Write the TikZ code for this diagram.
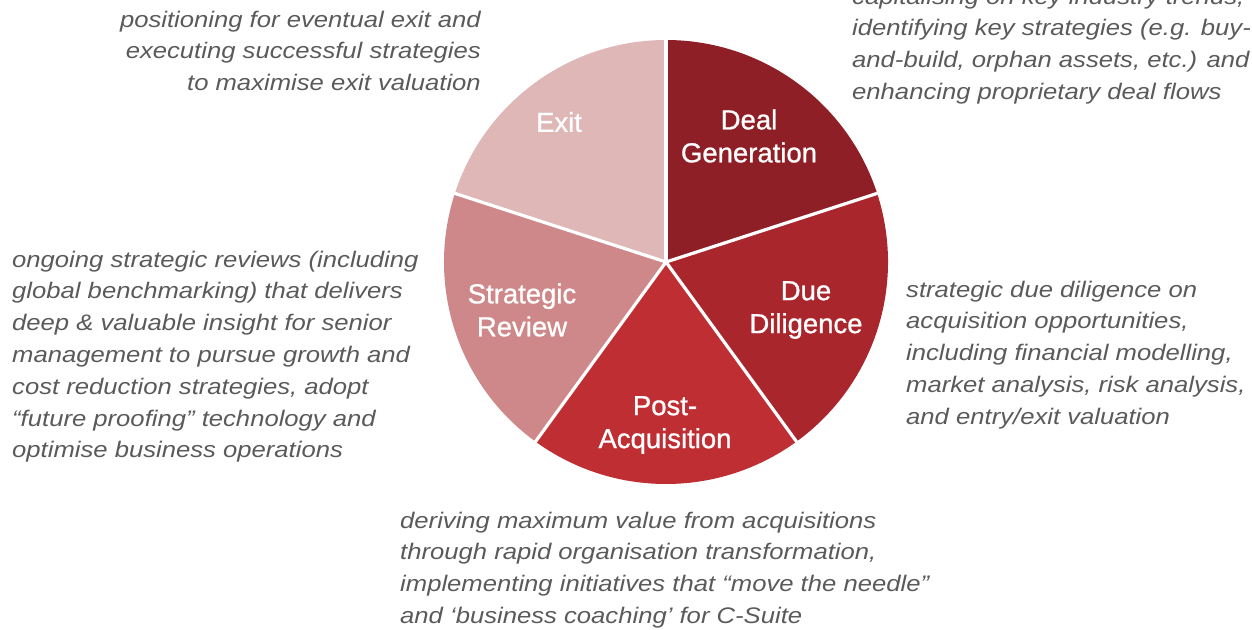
\documentclass[tikz,border=0pt]{standalone}
\usepackage{fontspec}
\setmainfont{Liberation Sans}
\newfontfamily\descfont[FakeStretch=1.14]{Liberation Sans}
\newfontfamily\labelfont[FakeBold=0.9]{Liberation Sans}
\definecolor{dealgen}{HTML}{8E1F26}
\definecolor{duedil}{HTML}{A8262C}
\definecolor{postacq}{HTML}{BF2E33}
\definecolor{stratrev}{HTML}{CF8889}
\definecolor{exitcol}{HTML}{DFB7B7}
\definecolor{desc}{HTML}{5A5A5A}
\begin{document}
\begin{tikzpicture}[x=1pt,y=1pt,
  desctext/.style={inner sep=0pt, text=desc, font=\descfont\fontsize{22.5}{31.8}\selectfont\itshape},
  slicelabel/.style={inner sep=0pt, text=white, align=center, font=\labelfont\fontsize{27.5}{33}\selectfont},
  divider/.style={white, line width=3.2pt}]
\useasboundingbox (0,0) rectangle (1252,-629);
\clip (0,0) rectangle (1252,-629);

% pie chart, five equal slices starting at the top and running clockwise
\coordinate (c) at (666,-262);
\def\rad{222}
\fill[dealgen]  (c) -- ++(90:\rad)  arc[start angle=90,  end angle=18,   radius=\rad] -- cycle;
\fill[duedil]   (c) -- ++(18:\rad)  arc[start angle=18,  end angle=-54,  radius=\rad] -- cycle;
\fill[postacq]  (c) -- ++(-54:\rad) arc[start angle=-54, end angle=-126, radius=\rad] -- cycle;
\fill[stratrev] (c) -- ++(-126:\rad) arc[start angle=-126, end angle=-198, radius=\rad] -- cycle;
\fill[exitcol]  (c) -- ++(162:\rad) arc[start angle=162, end angle=90,   radius=\rad] -- cycle;
\foreach \a in {90,18,-54,-126,162}
  \draw[divider] (c) -- ++(\a:\rad+2);

% slice labels
\node[slicelabel] (lbldeal) at (749,-136) {Deal\\Generation};
\node[slicelabel] (lblexit) at (559,-122) {Exit};
\node[slicelabel] (lblrev)  at (522,-310) {Strategic\\Review};
\node[slicelabel] (lbldue)  at (806,-310) {Due\\Diligence};
\node[slicelabel] (lblpost) at (665,-425) {Post-\\Acquisition};

% descriptions
\node[desctext, anchor=north west, align=left] (descdeal) at (852,{-4+22.3}) {\strut capitalising on key industry trends,\\
identifying key strategies (e.g. buy-\\
and-build, orphan assets, etc.) and\\
enhancing proprietary deal flows};
\node[desctext, anchor=north east, align=right] (descexit) at (481,{-27+22.3}) {\strut positioning for eventual exit and\\
executing successful strategies\\
to maximise exit valuation};
\node[desctext, anchor=north west, align=left] (descrev) at (12,{-267+22.3}) {\strut ongoing strategic reviews (including\\
global benchmarking) that delivers\\
deep \& valuable insight for senior\\
management to pursue growth and\\
cost reduction strategies, adopt\\
“future proofing” technology and\\
optimise business operations};
\node[desctext, anchor=north west, align=left] (descdue) at (906,{-297+22.3}) {\strut strategic due diligence on\\
acquisition opportunities,\\
including financial modelling,\\
market analysis, risk analysis,\\
and entry/exit valuation};
\node[desctext, anchor=north west, align=left] (descpost) at (400,{-528+22.3}) {\strut deriving maximum value from acquisitions\\
through rapid organisation transformation,\\
implementing initiatives that “move the needle”\\
and ‘business coaching’ for C-Suite};
\end{tikzpicture}
\end{document}
